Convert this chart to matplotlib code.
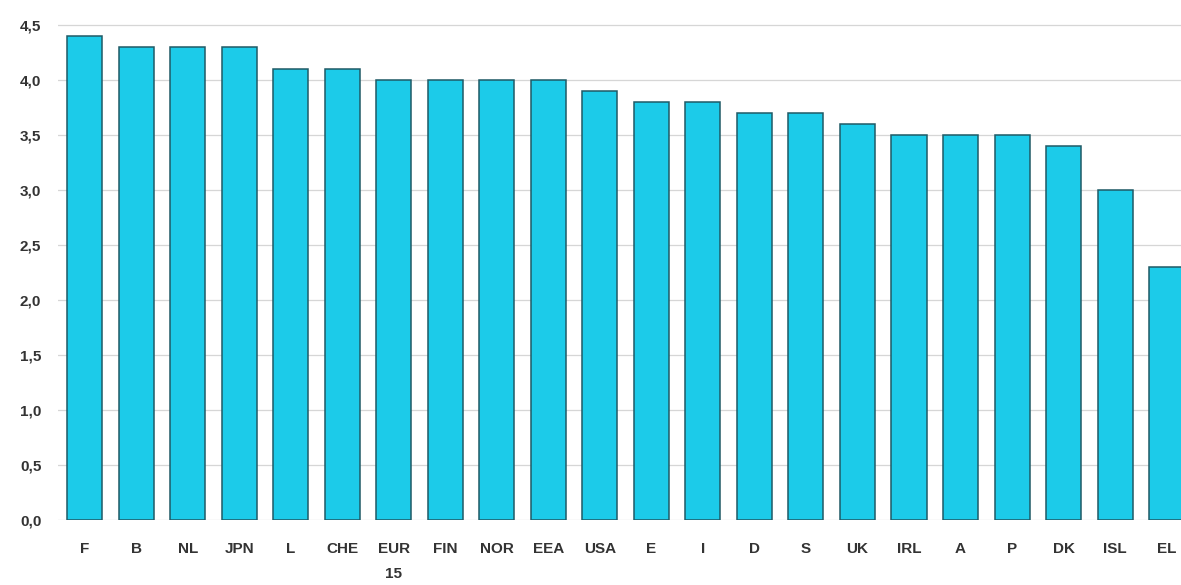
import numpy as np
import matplotlib.pyplot as plt
from matplotlib.ticker import FuncFormatter

# Datos
paises = ['F', 'B', 'NL', 'JPN', 'L', 'CHE', 'EUR\n15', 'FIN', 'NOR', 'EEA', 'USA',
          'E', 'I', 'D', 'S', 'UK', 'IRL', 'A', 'P', 'DK', 'ISL', 'EL']
valores = [4.4, 4.3, 4.3, 4.3, 4.1, 4.1, 4.0, 4.0, 4.0, 4.0, 3.9,
           3.8, 3.8, 3.7, 3.7, 3.6, 3.5, 3.5, 3.5, 3.4, 3.0, 2.3]
yticks = np.arange(0, 4.51, 0.5)

plt.rcParams['font.family'] = ['Liberation Sans', 'DejaVu Sans']
fig = plt.figure(figsize=(11.81, 5.85), dpi=100)
ax = fig.add_axes([58/1181, 65/585, 1 - 58/1181, 520/585])

x = np.arange(len(paises))
ax.bar(x, valores, width=0.68, color='#1ccbe9', edgecolor='#1f5a66', linewidth=1.1, zorder=3)

ax.set_xticks(x)
ax.set_xticklabels(paises, va='top', linespacing=2.0)
ax.set_yticks(yticks)
ax.yaxis.set_major_formatter(FuncFormatter(lambda v, p: f'{v:.1f}'.replace('.', ',')))
ax.tick_params(axis='both', length=0, labelsize=11, colors='#333333')
ax.tick_params(axis='x', pad=16)
ax.tick_params(axis='y', pad=12)
for t in ax.get_xticklabels() + ax.get_yticklabels():
    t.set_fontweight('bold')

ax.grid(axis='y', color='#d6d6d6', linewidth=0.9, zorder=0)
for s in ax.spines.values():
    s.set_visible(False)

ax.set_xlim(-0.52, 21.28)
ax.set_ylim(0, 4.73)

plt.savefig('out.png', dpi=100)
